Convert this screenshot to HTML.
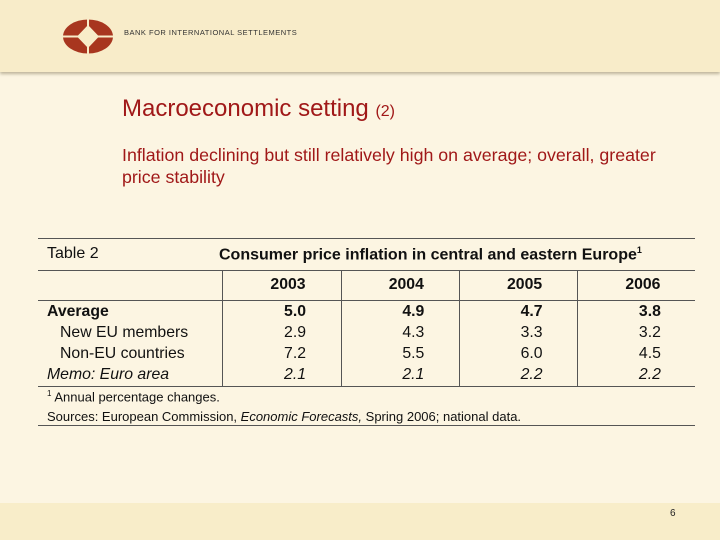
<!DOCTYPE html>
<html><head><meta charset="utf-8"><style>
body{margin:0;width:720px;height:540px;overflow:hidden;background:#fcf5e2;font-family:"Liberation Sans",Arial,sans-serif;position:relative}
.a{position:absolute;white-space:nowrap}
#hdr{left:0;top:0;width:720px;height:72px;background:#f8ecc9;box-shadow:0 2px 3px #bdb49a}
#ftr{left:0;top:503px;width:720px;height:37px;background:#f8edc9}
.hl{position:absolute;height:1px;background:#555}
.vl{position:absolute;width:1px;background:#555;top:270px;height:116px}
.t{font-size:15.8px;color:#111}
</style></head><body>
<div class="a" id="hdr">
<svg class="a" style="left:62px;top:19px" width="52" height="35">
<ellipse cx="26" cy="17.5" rx="25" ry="17" fill="#a8361f"/>
<rect x="25" y="0" width="2" height="35" fill="#f8ecc9"/>
<rect x="0" y="16.5" width="52" height="2" fill="#f8ecc9"/>
<polygon points="26,6 37,17.5 26,29 15,17.5" fill="#f8ecc9"/>
</svg>
<div class="a" style="left:124px;top:28px;font-size:7.5px;letter-spacing:0.5px;color:#333">BANK FOR INTERNATIONAL SETTLEMENTS</div>
</div>
<div class="a" style="left:122px;top:95px;font-size:24px;color:#a01818">Macroeconomic setting <span style="font-size:16px">(2)</span></div>
<div class="a" style="left:122px;top:144px;font-size:17.8px;line-height:22px;color:#a01818;white-space:normal;width:560px">Inflation declining but still relatively high on average; overall, greater price stability</div>

<div class="hl" style="left:38px;top:238px;width:657px"></div>
<div class="a t" style="left:47px;top:245px;font-size:16px">Table 2</div>
<div class="a t" style="left:219px;top:245px;font-size:16px;font-weight:bold">Consumer price inflation in central and eastern Europe<sup style="font-size:9px">1</sup></div>
<div class="hl" style="left:38px;top:270px;width:657px"></div>
<div class="hl" style="left:38px;top:300px;width:657px"></div>
<div class="hl" style="left:38px;top:386px;width:657px"></div>
<div class="hl" style="left:38px;top:425px;width:657px"></div>
<div class="vl" style="left:222px"></div><div class="vl" style="left:341px"></div><div class="vl" style="left:459px"></div><div class="vl" style="left:577px"></div>
<div class="a t" style="left:47px;top:389px;font-size:13px"><sup style="font-size:8px">1</sup> Annual percentage changes.</div>
<div class="a t" style="left:47px;top:409px;font-size:13px">Sources: European Commission, <i>Economic Forecasts,</i> Spring 2006; national data.</div>
<div class="a" style="left:670px;top:508px;font-size:10px;color:#222">6</div>
<div class="a" id="ftr" style="z-index:-1"></div>
<div id="tbl"></div>
<script>
const years=["2003","2004","2005","2006"];
const rowLabels=["Average","New EU members","Non-EU countries","Memo: Euro area"];
const average=["5.0","4.9","4.7","3.8"];
const newEU=["2.9","4.3","3.3","3.2"];
const nonEU=["7.2","5.5","6.0","4.5"];
const euroArea=["2.1","2.1","2.2","2.2"];
const series=[average,newEU,nonEU,euroArea];
const tbl=document.getElementById('tbl');
const colX=i=>222+118.3*i;
const rowY=r=>303+21*r;
function mk(txt,css,name){const d=document.createElement('div');d.className='a t';d.textContent=txt;d.style.cssText=css;


tbl.appendChild(d);return d;}
years.forEach((y,i)=>mk(y,`left:${colX(i)}px;width:132px;text-align:center;top:276px;font-weight:bold`,'year-header'));
rowLabels.forEach((l,r)=>{
 const st=r===0?'font-weight:bold;left:47px':r===3?'font-style:italic;left:47px':'left:60px';
 mk(l,`${st};top:${rowY(r)}px`,'row-label');
 series[r].forEach((v,i)=>mk(v,`left:${colX(i)}px;width:${84}px;text-align:right;top:${rowY(r)}px;${r===0?'font-weight:bold;':''}${r===3?'font-style:italic;':''}`,'cell-value'));
});
</script>
</body></html>
